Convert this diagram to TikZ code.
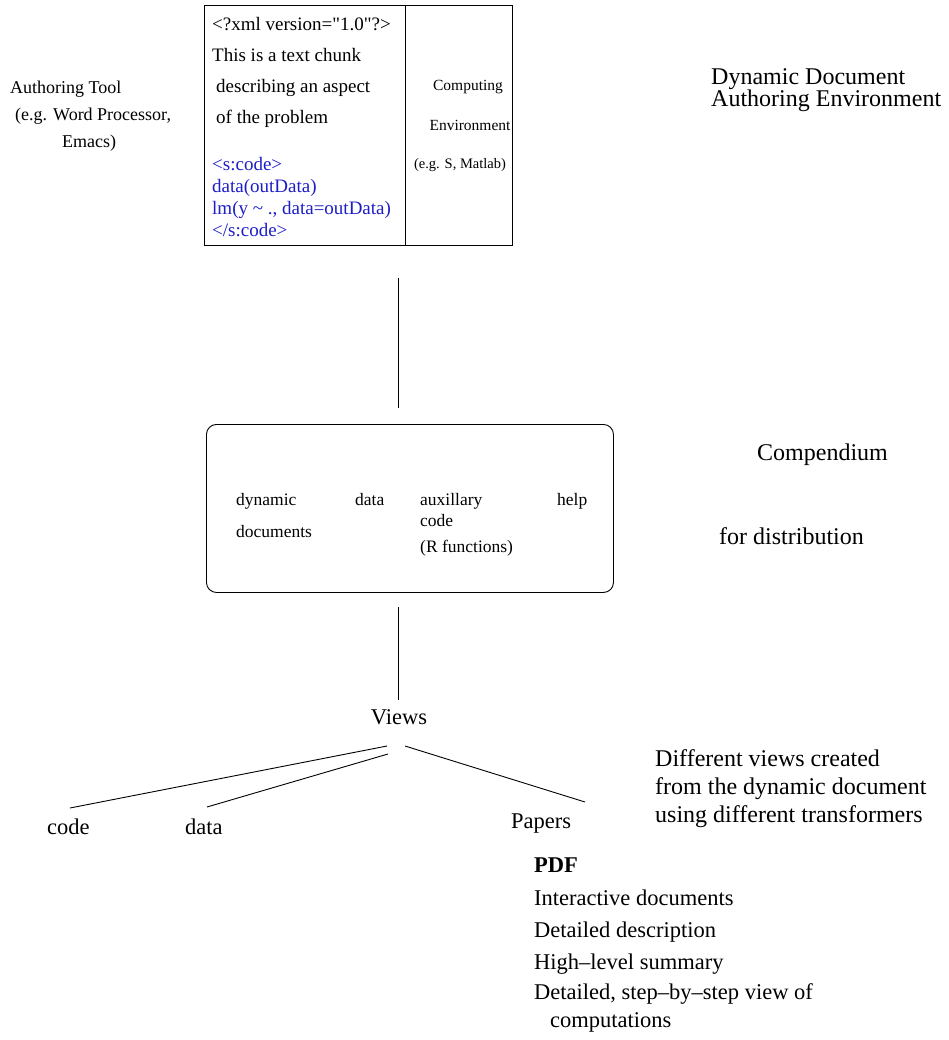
\documentclass[tikz,border=0pt]{standalone}
\usepackage{fontspec}
\setmainfont{Liberation Serif}
\newfontfamily\plainserif{Liberation Serif}[Ligatures=TeXOff]
\definecolor{codeblue}{RGB}{30,30,200}
\begin{document}
\begin{tikzpicture}[x=1pt,y=-1pt,
  txt/.style={anchor=base west, inner sep=0pt, font=\fontsize{22.5}{24}\selectfont},
  bigtxt/.style={anchor=base west, inner sep=0pt, font=\fontsize{24}{24}\selectfont},
  boxtxt/.style={anchor=base west, inner sep=0pt, font=\fontsize{19}{20}\selectfont},
  comptxt/.style={anchor=base west, inner sep=0pt, font=\fontsize{17.5}{19}\selectfont},
  codetxt/.style={boxtxt, text=codeblue},
  sidetxt/.style={anchor=base west, inner sep=0pt, font=\fontsize{18}{19}\selectfont},
  ctrtxt/.style={anchor=base, inner sep=0pt, font=\fontsize{15.5}{17}\selectfont},
  conn/.style={draw=black, line width=0.9pt}]
\useasboundingbox (0,0) rectangle (948,1040);
\fill[white] (0,0) rectangle (948,1040);

% top environment box
\node[draw, line width=0.9pt, minimum width=308pt, minimum height=240pt, anchor=north west, inner sep=0pt] (envbox) at (204,5) {};
\coordinate (divtop) at (405,5);
\coordinate (divbot) at (405,245);
\draw[conn] (divtop) -- (divbot);

\node[boxtxt, font=\fontsize{19}{20}\plainserif] (l1) at (212,31) {<?xml version="1.0"?>};
\node[boxtxt] (l2) at (212,62) {This is a text chunk};
\node[boxtxt] (l3) at (216,93) {describing an aspect};
\node[boxtxt] (l4) at (216,124) {of the problem};
\node[codetxt] (c1) at (212,171) {<s:code>};
\node[codetxt] (c2) at (212,193) {data(outData)};
\node[codetxt] (c3) at (212,215) {lm(y \textasciitilde\ ., data=outData)};
\node[codetxt] (c4) at (212,237) {</s:code>};

\node[ctrtxt] (r1) at (468,91) {Computing};
\node[ctrtxt] (r2) at (470,131) {Environment};
\node[ctrtxt, font=\fontsize{14.5}{17}\selectfont] (r3) at (460,169) {(e.g. S, Matlab)};

% left side
\node[sidetxt] (at1) at (10,94) {Authoring Tool};
\node[sidetxt] (at2) at (15,121) {(e.g. Word Processor,};
\node[sidetxt, anchor=base] (at3) at (89,148) {Emacs)};

% right top
\node[bigtxt] (dd1) at (711,85) {Dynamic Document};
\node[bigtxt] (dd2) at (711,107) {Authoring Environment};

% connector 1
\coordinate (v1a) at (398,278);
\coordinate (v1b) at (398,408);
\draw[conn] (v1a) -- (v1b);

% compendium box
\node[draw, line width=0.9pt, rounded corners=10pt, minimum width=407pt, minimum height=168pt, anchor=north west, inner sep=0pt] (compbox) at (206,424) {};
\node[comptxt] (k1) at (236,505) {dynamic};
\node[comptxt] (k2) at (236,537) {documents};
\node[comptxt] (k3) at (355,505) {data};
\node[comptxt] (k4) at (420,505) {auxillary};
\node[comptxt] (k5) at (420,526) {code};
\node[comptxt] (k6) at (420,552) {(R functions)};
\node[comptxt] (k7) at (557,505) {help};

\node[bigtxt] (cp1) at (757,460) {Compendium};
\node[bigtxt] (cp2) at (719,544) {for distribution};

% connector 2
\coordinate (v2a) at (398,607);
\coordinate (v2b) at (398,700);
\draw[conn] (v2a) -- (v2b);

\node[txt, anchor=base] (views) at (399,724) {Views};
\coordinate (vl1) at (387,746);
\coordinate (vl2) at (388,754);
\coordinate (vl3) at (405,746);
\node[txt] (code) at (47,834) {code};
\node[txt] (data) at (185,834) {data};
\node[txt] (papers) at (511,828) {Papers};
\coordinate (ce) at (70,808);
\coordinate (de) at (207,807);
\coordinate (pe) at (585,802);
\draw[conn] (vl1) -- (ce);
\draw[conn] (vl2) -- (de);
\draw[conn] (vl3) -- (pe);

\node[bigtxt] (dv1) at (655,766) {Different views created};
\node[bigtxt] (dv2) at (655,794) {from the dynamic document};
\node[bigtxt] (dv3) at (655,822) {using different transformers};

\node[txt, font=\fontsize{22.5}{24}\selectfont\bfseries] (p1) at (534,872) {PDF};
\node[txt] (p2) at (534,905) {Interactive documents};
\node[txt] (p3) at (534,937) {Detailed description};
\node[txt] (p4) at (534,969) {High--level summary};
\node[txt] (p5) at (534,999) {Detailed, step--by--step view of};
\node[txt] (p6) at (550,1027) {computations};
\end{tikzpicture}
\end{document}
